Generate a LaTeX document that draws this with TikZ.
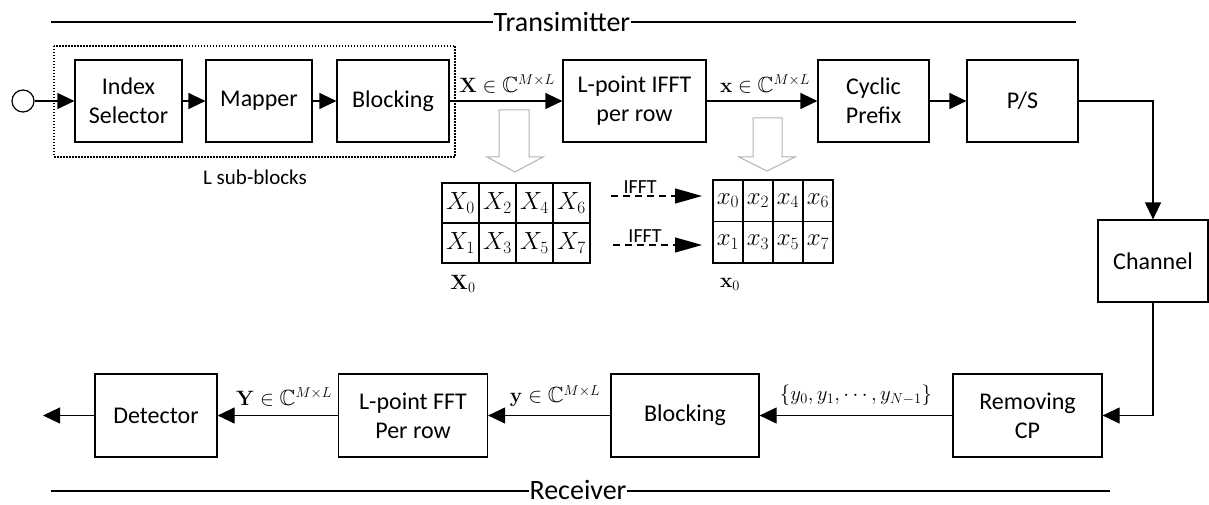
\documentclass[tikz,border=0pt]{standalone}
\usepackage{amssymb}
\usepackage[no-math]{fontspec}
\setmainfont{Carlito}
\usetikzlibrary{arrows.meta}

\tikzset{
  blockbox/.style={draw, line width=1.2pt, minimum height=82pt, inner sep=0pt,
    align=center, font=\fontsize{24}{29}\selectfont},
  flow/.style={line width=1.2pt, -{Triangle[length=17pt,width=16pt]}},
  ifftarrow/.style={line width=1.2pt, dash pattern=on 7pt off 5pt,
    -{Triangle[length=27pt,width=15pt]}},
  cellL/.style={draw, line width=1.2pt, minimum width=37pt, minimum height=40pt,
    inner sep=0pt, font=\fontsize{27}{27}\selectfont},
  cellR/.style={draw, line width=1.2pt, minimum width=30pt, minimum height=41.5pt,
    inner sep=0pt, font=\fontsize{25}{25}\selectfont},
  mathlabel/.style={inner sep=0pt, font=\fontsize{22}{22}\selectfont},
  titlelabel/.style={fill=white, inner sep=1pt, anchor=base, font=\fontsize{28}{30}\selectfont},
  hollow/.style={draw=gray!60, line width=1pt}
}

\begin{document}
\begin{tikzpicture}[x=1pt, y=-1pt]
    \useasboundingbox (0,0) rectangle (1209,505);

    % transmitter
    \draw[line width=1.2pt] (51,22) -- (1076,22);
    \node[titlelabel] (txtitle) at (562,32) {Transimitter};
    \draw[line width=1.2pt, dash pattern=on 1.5pt off 1.5pt] (54,46) rectangle (455,157);
    \node[font=\fontsize{21}{21}\selectfont] (sub) at (255,177) {L sub-blocks};

    \node[circle, draw, line width=1.2pt, minimum size=22pt, inner sep=0pt] (src) at (23,101) {};
    \node[blockbox, minimum width=107pt] (idx) at (128.5,101) {Index\\Selector};
    \node[blockbox, minimum width=106pt] (map) at (259,101) {Mapper};
    \node[blockbox, minimum width=112pt] (blk) at (393,101) {Blocking};
    \node[blockbox, minimum width=143pt] (ifft) at (634.5,101) {L-point IFFT\\per row};
    \node[blockbox, minimum width=111pt] (cp) at (873.5,101) {Cyclic\\Prefix};
    \node[blockbox, minimum width=111pt] (ps) at (1022.5,101) {P/S};
    \node[blockbox, minimum width=110pt] (ch) at (1153,261) {Channel};

    \draw[flow] (src) -- (idx);
    \draw[flow] (idx) -- (map);
    \draw[flow] (map) -- (blk);
    \draw[flow] (blk) -- (ifft);
    \draw[flow] (ifft) -- (cp);
    \draw[flow] (cp) -- (ps);
    \draw[flow] (ps.east) -| (ch.north);

    \node[mathlabel] (Xlab) at (507,84) {$\mathbf{X}\in\mathbb{C}^{M\times L}$};
    \node[mathlabel] (xlab) at (765,84) {$\mathbf{x}\in\mathbb{C}^{M\times L}$};

    % hollow arrows
    \draw[hollow] (499,110) -- (529,110) -- (529,157) -- (543,157) -- (515,172)
        -- (487,157) -- (499,157) -- cycle;
    \draw[hollow] (753,118) -- (782,118) -- (782,157) -- (795,157) -- (767,171)
        -- (739,157) -- (753,157) -- cycle;

    % blocks of symbols
    \foreach \c in {0,...,3}{
      \foreach \r in {0,1}{
        \pgfmathtruncatemacro{\k}{2*\c+\r}
        \node[cellL] (L\c\r) at ({460.5+37*\c},{203+40*\r}) {$X_{\k}$};
        \node[cellR] (R\c\r) at ({728+30*\c},{200.75+41.5*\r}) {$x_{\k}$};
      }
    }
    \node[mathlabel] (Xzero) at (463,284) {$\mathbf{X}_0$};
    \node[mathlabel] (xzero) at (730,284) {$\mathbf{x}_0$};

    \coordinate (ia) at (611,196);
    \coordinate (ib) at (702,196);
    \coordinate (ic) at (613,245);
    \coordinate (id) at (702,245);
    \draw[ifftarrow] (ia) -- (ib) node[pos=0.32, above=2pt, inner sep=0pt, font=\fontsize{20}{20}\selectfont] (ifftA) {IFFT};
    \draw[ifftarrow] (ic) -- (id) node[pos=0.36, above=2pt, inner sep=0pt, font=\fontsize{20}{20}\selectfont] (ifftB) {IFFT};

    % receiver
    \node[blockbox, minimum width=149pt, minimum height=83pt] (rcp) at (1027.5,415.5) {Removing\\CP};
    \node[blockbox, minimum width=148pt, minimum height=83pt] (blk2) at (685,415.5) {Blocking};
    \node[blockbox, minimum width=149pt, minimum height=83pt] (fft) at (413,415.5) {L-point FFT\\Per row};
    \node[blockbox, minimum width=122pt, minimum height=83pt] (det) at (156,415.5) {Detector};
    \coordinate (out) at (43,415.5);

    \draw[flow] (ch.south) |- (rcp.east);
    \draw[flow] (rcp) -- (blk2);
    \draw[flow] (blk2) -- (fft);
    \draw[flow] (fft) -- (det);
    \draw[flow] (det) -- (out);

    \node[mathlabel] (ylist) at (856,395) {$\big\{y_0,y_1,\cdots,y_{N-1}\big\}$};
    \node[mathlabel] (ylab) at (555,396) {$\mathbf{y}\in\mathbb{C}^{M\times L}$};
    \node[mathlabel] (Ylab) at (284,397) {$\mathbf{Y}\in\mathbb{C}^{M\times L}$};

    \draw[line width=1.2pt] (51,491) -- (1110,491);
    \node[titlelabel] (rxtitle) at (578,499) {Receiver};
\end{tikzpicture}
\end{document}
